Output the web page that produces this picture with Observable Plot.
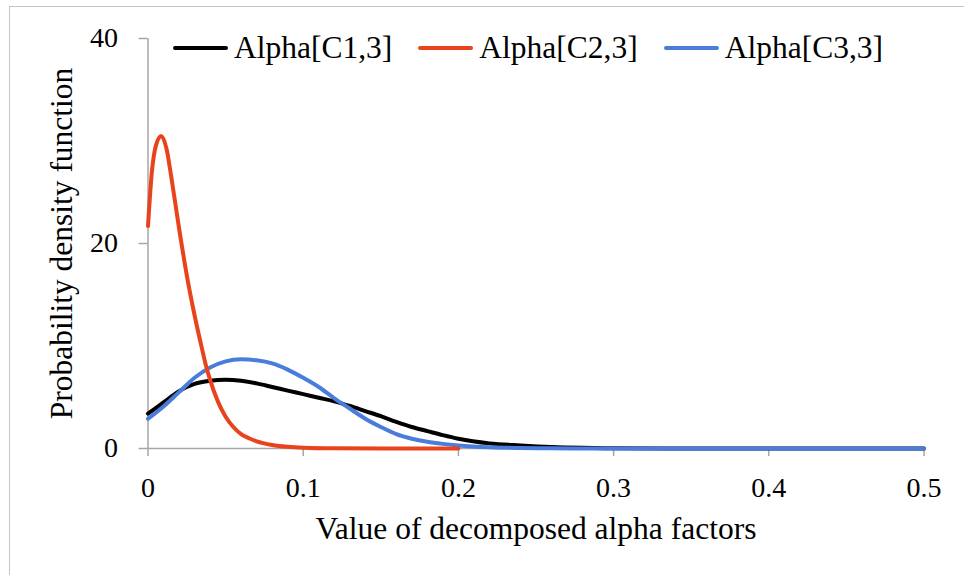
<!DOCTYPE html>
<html>
<head>
<meta charset="utf-8">
<script src="https://cdn.jsdelivr.net/npm/d3@7"></script>
<script src="https://cdn.jsdelivr.net/npm/@observablehq/plot@0.6"></script>
<style>
  html, body { margin: 0; padding: 0; background: #fff; }
  body { width: 964px; height: 575px; position: relative; overflow: hidden; font-family: "Liberation Serif", "Times New Roman", Times, "DejaVu Serif", serif; }
  #frame { position: absolute; left: 9px; top: 6px; width: 1000px; height: 1000px; border: 1.5px solid #c4c4c4; box-sizing: border-box; }
  #chart { position: absolute; left: 0; top: 0; }
  #legend { position: absolute; left: 173px; top: 32px; display: flex; align-items: center; font-family: "Liberation Serif", "Times New Roman", Times, "DejaVu Serif", serif; font-size: 31.5px; line-height: 32px; color: #000; white-space: nowrap; }
  #legend .item { display: flex; align-items: center; margin-right: 26px; }
  #legend .sw { width: 55px; height: 4px; margin-right: 6px; border-radius: 2px; }
  svg text { font-family: "Liberation Serif", "Times New Roman", Times, "DejaVu Serif", serif; }
</style>
</head>
<body>
<div id="frame"></div>
<div id="chart"></div>
<div id="legend"></div>
<script>
// ---- data ----
const seriesNames = ["Alpha[C1,3]", "Alpha[C2,3]", "Alpha[C3,3]"];
const seriesColors = ["#000000", "#e8431c", "#4a7ddb"];

const xC1 = [0, 0.01, 0.02, 0.03, 0.04, 0.05, 0.06, 0.07, 0.08, 0.09, 0.10, 0.11, 0.12, 0.13, 0.14, 0.15, 0.16, 0.17, 0.18, 0.19, 0.20, 0.22, 0.24, 0.26, 0.28, 0.30, 0.35, 0.40, 0.45, 0.50];
const yC1 = [3.4, 4.5, 5.6, 6.3, 6.6, 6.7, 6.6, 6.35, 6.0, 5.65, 5.3, 4.95, 4.6, 4.15, 3.65, 3.15, 2.6, 2.1, 1.7, 1.3, 0.95, 0.5, 0.3, 0.15, 0.07, 0.03, 0, 0, 0, 0];

const xC2 = [0, 0.0025, 0.005, 0.0085, 0.012, 0.015, 0.02, 0.025, 0.03, 0.035, 0.0375, 0.04, 0.045, 0.05, 0.055, 0.06, 0.065, 0.07, 0.08, 0.09, 0.10, 0.12, 0.15, 0.20];
const yC2 = [21.7, 27.0, 29.5, 30.5, 29.2, 26.5, 21.5, 16.9, 13.0, 9.6, 8.0, 6.7, 4.6, 3.1, 2.1, 1.4, 1.0, 0.7, 0.35, 0.17, 0.08, 0.02, 0, 0];

const xC3 = [0, 0.01, 0.02, 0.03, 0.04, 0.05, 0.06, 0.07, 0.08, 0.09, 0.10, 0.11, 0.12, 0.13, 0.14, 0.15, 0.16, 0.17, 0.18, 0.19, 0.20, 0.22, 0.24, 0.26, 0.28, 0.30, 0.35, 0.40, 0.45, 0.50];
const yC3 = [2.9, 4.1, 5.5, 6.9, 7.9, 8.5, 8.7, 8.6, 8.3, 7.7, 6.9, 6.0, 4.9, 3.9, 2.9, 2.1, 1.4, 0.95, 0.65, 0.45, 0.3, 0.12, 0.05, 0.02, 0, 0, 0, 0, 0, 0];

const xTicks = [0, 0.1, 0.2, 0.3, 0.4, 0.5];
const yTicks = [0, 20, 40];
const xTitle = "Value of decomposed alpha factors";
const yTitle = "Probability density function";

// ---- build tables ----
const toRows = (xs, ys, name) => xs.map((x, i) => ({x, y: ys[i], series: name}));
const rowsC1 = toRows(xC1, yC1, seriesNames[0]);
const rowsC2 = toRows(xC2, yC2, seriesNames[1]);
const rowsC3 = toRows(xC3, yC3, seriesNames[2]);

const axisGray = "#a6a6a6";
const tickFont = 28;
const titleFont = 31.5;
const serif = "'Liberation Serif', 'Times New Roman', Times, 'DejaVu Serif', serif";

const chart = Plot.plot({
  width: 964,
  height: 575,
  marginLeft: 147.5,
  marginRight: 40.5,
  marginTop: 38,
  marginBottom: 127,
  style: {fontFamily: serif, background: "transparent", color: "#000", overflow: "visible"},
  x: {domain: [0, 0.5]},
  y: {domain: [0, 40]},
  marks: [
    Plot.ruleX([0], {stroke: axisGray, strokeWidth: 1.5}),
    Plot.ruleY([0], {stroke: axisGray, strokeWidth: 1.5}),
    Plot.axisX({ticks: xTicks, tickFormat: d => String(+d.toFixed(1)), tickSize: 8, tickPadding: 21, stroke: axisGray, strokeWidth: 1.5, fontSize: tickFont, label: null}),
    Plot.axisY({ticks: yTicks, tickSize: 9, tickPadding: 21, stroke: axisGray, strokeWidth: 1.5, fontSize: tickFont, label: null}),
    Plot.line(rowsC1, {x: "x", y: "y", stroke: seriesColors[0], strokeWidth: 4, curve: "monotone-x"}),
    Plot.line(rowsC3, {x: "x", y: "y", stroke: seriesColors[2], strokeWidth: 4, curve: "monotone-x"}),
    Plot.line(rowsC2, {x: "x", y: "y", stroke: seriesColors[1], strokeWidth: 4, curve: "monotone-x"}),
    Plot.text([xTitle], {frameAnchor: "bottom", textAnchor: "middle", lineAnchor: "middle", dy: 80, fontSize: titleFont, fill: "#000"}),
    Plot.text([yTitle], {frameAnchor: "left", textAnchor: "middle", lineAnchor: "middle", rotate: -90, dx: -86.5, fontSize: titleFont, fill: "#000"})
  ]
});
document.getElementById("chart").appendChild(chart);

// ---- legend ----
const legend = document.getElementById("legend");
seriesNames.forEach((name, i) => {
  const item = document.createElement("div");
  item.className = "item";
  const sw = document.createElement("div");
  sw.className = "sw";
  sw.style.background = seriesColors[i];
  const label = document.createElement("span");
  label.textContent = name;
  item.appendChild(sw);
  item.appendChild(label);
  legend.appendChild(item);
});
</script>
</body>
</html>
